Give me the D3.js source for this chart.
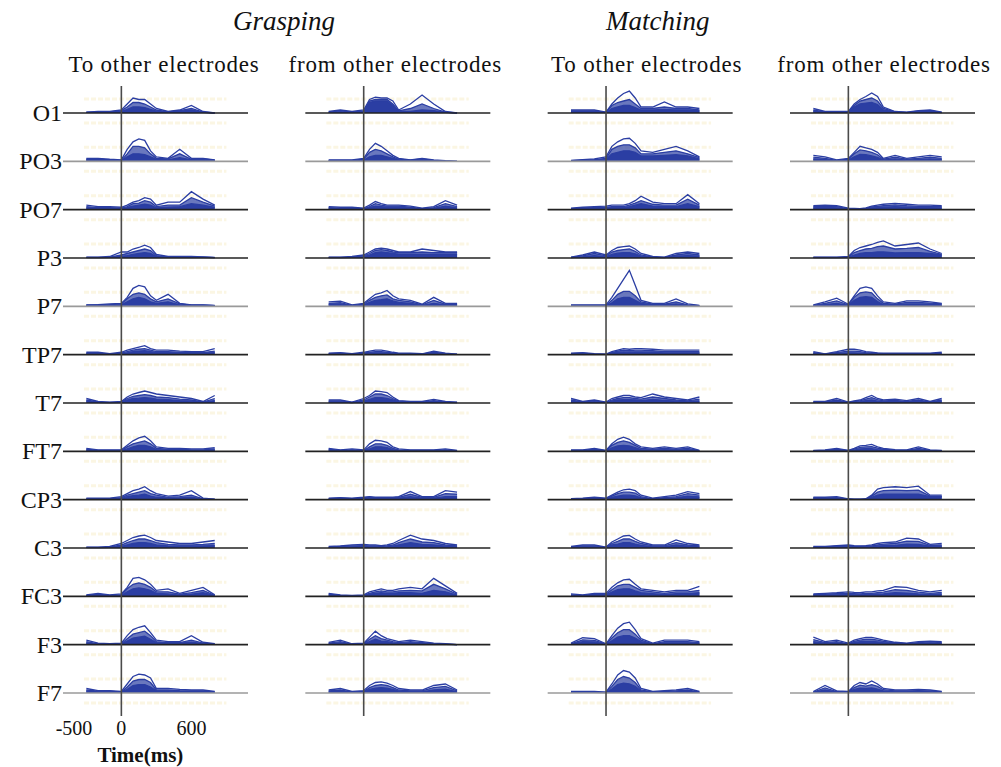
<!DOCTYPE html>
<html>
<head>
<meta charset="utf-8">
<script src="https://cdn.jsdelivr.net/npm/d3@7"></script>
<style>
  body { margin: 0; background: #fff; }
  svg { display: block; }
  text { font-family: "Liberation Serif", "Times New Roman", serif; fill: #111; }
</style>
</head>
<body>
<svg width="1001" height="767"></svg>
<script>
// electrodes (rows), conditions and directions (columns)
var electrodes = ["O1", "PO3", "PO7", "P3", "P7", "TP7", "T7", "FT7", "CP3", "C3", "FC3", "F3", "F7"];
var conditions = ["Grasping", "Matching"];
var directions = ["To other electrodes", "from other electrodes"];
var times = [-300, -200, -100, 0, 50, 100, 150, 200, 250, 300, 400, 500, 600, 700, 800];
var xTicks = [-500, 0, 600];
var lightRows = ["PO3", "P7", "F7"];

// each row: [upper trace, middle trace, lower trace], one value per time point
var graspTo = [
  [[0.3,0.5,0.5,1,3,5,4.5,4.5,3,1.5,0.5,1,2.5,0.5,0], [0.2,0.3,0.4,0.8,2,3.5,3.5,3,2,1,0.4,0.8,1.5,0.3,0], [0.2,0.2,0.3,0.5,1.2,2,2,1.8,1.2,0.6,0.3,0.5,1,0.2,0]],
  [[1,1,0.7,0.5,4,6.5,7.5,7,3.5,1.5,1,4,1,1,0.5], [0.7,0.7,0.5,0.3,2.5,5,5,4.5,2.5,1,0.8,2.5,0.7,0.8,0.4], [0.5,0.5,0.3,0.2,1.5,2.5,2.5,2.2,1.5,0.7,0.5,1.2,0.5,0.5,0.3]],
  [[1.5,1,1,0.8,1.5,2.5,3,4,3.5,1.5,2.5,2.5,6,3.5,1.5], [1,0.7,0.7,0.5,1,2,2.2,3,2.5,1,1.5,1.5,4,2.5,1.2], [0.6,0.5,0.5,0.3,0.7,1.2,1.5,1.8,1.5,0.6,0.8,1,2,1.5,0.8]],
  [[0.3,0.3,0.5,2,2,3,3.5,4.3,3.5,1.2,0.5,0.5,0.5,0.4,0.2], [0.2,0.2,0.3,1,1.5,2,2.5,3,2.5,0.8,0.4,0.4,0.3,0.3,0.1], [0.1,0.1,0.2,0.5,0.8,1.2,1.5,1.8,1.5,0.5,0.2,0.3,0.2,0.2,0.1]],
  [[0.5,0.6,0.8,1,3,6,7,6.5,3.5,2,4,1,0.5,0.5,0.3], [0.4,0.5,0.6,0.8,2.5,4,4.5,4,2.5,1.5,2.5,0.8,0.4,0.4,0.2], [0.3,0.3,0.4,0.5,1.5,2.5,3,2.5,1.5,1,1.5,0.5,0.3,0.3,0.2]],
  [[0.8,0.8,0.3,0.8,1.5,2,2.5,3,2,1.5,1.5,1.2,1,1,2], [0.5,0.5,0.2,0.5,1,1.5,1.8,2,1.5,1,1,0.8,0.7,0.7,1.2], [0.3,0.3,0.1,0.3,0.6,1,1.2,1.3,1,0.7,0.7,0.5,0.5,0.5,0.7]],
  [[1.5,0.5,0.3,0.5,2,3,3.5,4,3.5,3,2.5,2,1.5,0.5,2.5], [1,0.3,0.2,0.3,1.5,2.2,2.5,2.8,2.5,2,1.8,1.3,1,0.3,1.5], [0.6,0.2,0.1,0.2,1,1.5,1.6,1.8,1.6,1.3,1.1,0.8,0.6,0.2,0.8]],
  [[1,0.5,0.5,0.5,2,3.5,4.5,5,3.5,1.5,1,1,0.8,0.8,1.2], [0.7,0.3,0.3,0.3,1.5,2.5,3,3.5,2.5,1,0.7,0.7,0.5,0.5,0.8], [0.4,0.2,0.2,0.2,0.8,1.5,2,2,1.5,0.6,0.5,0.5,0.3,0.3,0.5]],
  [[0.5,0.5,0.5,1,2,3,3.5,4.3,3,2,1.2,1.5,3,0.5,0.2], [0.3,0.3,0.3,0.7,1.5,2,2.5,3,2,1.5,0.8,1,1.5,0.3,0.1], [0.2,0.2,0.2,0.4,1,1.3,1.5,1.8,1.2,0.8,0.5,0.6,0.8,0.2,0.1]],
  [[0.3,0.3,0.5,1.5,2.5,3.5,4,4.3,3.5,2.5,2,1.5,1.5,2,2.5], [0.2,0.2,0.3,1,1.8,2.5,3,3,2.5,1.8,1.2,1,1,1.2,1.5], [0.1,0.1,0.2,0.5,1,1.5,1.8,1.8,1.5,1,0.7,0.6,0.6,0.7,0.8]],
  [[0.5,1,0.5,0.8,3,6,6.3,5.5,4,2,2.5,1,2,3,0.5], [0.3,0.7,0.3,0.5,2.5,4,4.5,4,3,1.5,1.5,0.7,1.2,2,0.3], [0.2,0.4,0.2,0.3,1.5,2.5,2.8,2.5,2,1,0.8,0.4,0.7,1.2,0.2]],
  [[1.5,0.5,0.3,0.5,3,5,5.8,6.3,4,1.5,1,1,3,0.8,0.3], [1,0.3,0.2,0.3,2,3.5,4,4.5,3,1,0.7,0.7,1.5,0.5,0.2], [0.6,0.2,0.1,0.2,1.2,2.2,2.5,2.8,1.8,0.7,0.5,0.5,0.8,0.3,0.1]],
  [[1.5,0.8,0.8,0.5,3,5.5,6.3,6,5,1.5,1.5,1.2,1,1,0.5], [1,0.6,0.6,0.3,2,4,4.5,4.5,3.5,1,1,0.8,0.7,0.7,0.3], [0.6,0.4,0.4,0.2,1.2,2.5,2.8,2.8,2,0.7,0.7,0.5,0.5,0.5,0.2]]
];

var graspFrom = [
  [[0.5,1,0.5,1,4.5,5.3,5,5,4,1,3,6,3,0.5,0], [0.3,0.7,0.3,0.7,4,4.5,4.5,4.5,3,0.7,1.5,3,1.5,0.3,0], [0.2,0.4,0.2,0.5,3.5,4,4,4,2.5,0.5,0.5,1,0.8,0.2,0]],
  [[0.5,0.5,0.5,1,4,6,5,3.5,2,1,0.5,1,0.5,0.2,0], [0.3,0.3,0.3,0.7,3,4,3.5,2.5,1.5,0.7,0.4,0.8,0.3,0.1,0], [0.2,0.2,0.2,0.4,1.5,2,2,1.5,1,0.5,0.3,0.5,0.2,0.1,0]],
  [[1,0.8,0.8,0.5,1.5,2.7,2,1.5,1.5,1.5,1.2,0.5,1,3,1.5], [0.7,0.5,0.5,0.3,1,2,1.5,1.2,1.2,1.2,0.8,0.3,0.7,2,1], [0.5,0.3,0.3,0.2,0.7,1.2,1,0.8,0.8,0.8,0.5,0.2,0.4,1.2,0.6]],
  [[0.3,0.3,0.5,1,2,3,3.3,3,2.5,2,2,3,2.5,2,2], [0.2,0.2,0.3,0.7,1.5,2.5,2.8,2.5,2,1.8,1.8,2,1.8,1.8,1.8], [0.1,0.1,0.2,0.4,1,1.8,2,1.8,1.5,1.3,1.3,1.3,1.3,1.3,1.3]],
  [[1.5,1.7,0.5,1,2.5,4,4.5,5.3,3.5,2.5,2,0.7,3,1,1], [1,1.2,0.3,0.7,2,3,3.5,3.8,2.5,2,1.5,0.5,2,0.7,0.7], [0.6,0.8,0.2,0.4,1.3,2,2.2,2.5,1.8,1.3,1,0.3,1,0.5,0.5]],
  [[0.5,0.7,0.3,0.8,1.2,1.5,1.5,1.2,0.8,0.5,0.5,0.3,1.2,0.5,0.2], [0.3,0.5,0.2,0.5,0.8,1,1,0.8,0.5,0.3,0.3,0.2,0.8,0.3,0.1], [0.2,0.3,0.1,0.3,0.5,0.6,0.6,0.5,0.3,0.2,0.2,0.1,0.5,0.2,0.1]],
  [[1,1,0.3,1.5,2.5,4,3.8,3.5,2,0.8,0.5,0.5,1.2,0.5,0.3], [0.7,0.7,0.2,1,2,3,3,2.5,1.5,0.6,0.4,0.3,0.8,0.3,0.2], [0.4,0.4,0.1,0.6,1.2,1.8,1.8,1.5,1,0.4,0.2,0.2,0.5,0.2,0.1]],
  [[1,0.5,0.8,0.5,2.5,3.7,3.5,3,1.5,0.8,0.5,0.5,0.5,0.8,0.3], [0.7,0.3,0.5,0.3,1.5,2.5,2.5,2,1,0.5,0.3,0.3,0.3,0.5,0.2], [0.4,0.2,0.3,0.2,0.8,1.5,1.5,1.2,0.6,0.3,0.2,0.2,0.2,0.3,0.1]],
  [[0.5,0.7,0.5,0.8,1,0.8,0.8,0.8,0.8,1,2.7,1,1,3,2.5], [0.3,0.5,0.3,0.6,0.8,0.6,0.6,0.6,0.6,0.8,1.8,0.8,0.8,2,1.8], [0.2,0.3,0.2,0.4,0.5,0.5,0.5,0.5,0.5,0.5,1,0.5,0.5,1,1]],
  [[0.5,0.7,1,1.2,1,1,0.8,1,1.5,2.5,4.3,3,2.5,1.5,1], [0.3,0.5,0.7,0.8,0.7,0.7,0.5,0.7,1,1.8,3,2,1.8,1,0.7], [0.2,0.3,0.4,0.5,0.4,0.4,0.3,0.4,0.6,1,1.8,1.2,1,0.6,0.4]],
  [[1,0.5,0.3,0.5,1.5,2,2.5,2,2,2.5,3,2.5,6,3.5,1], [0.7,0.3,0.2,0.3,1,1.5,1.8,1.5,1.5,1.8,2,1.8,4,2.5,0.7], [0.4,0.2,0.1,0.2,0.7,1,1.2,1,1,1.2,1.2,1,2,1.5,0.4]],
  [[0.8,1.5,0.3,0.5,2.5,4.5,3,2,1.5,1,1.5,1,0.5,0.3,0], [0.5,1,0.2,0.3,1.8,3,2,1.5,1,0.7,1,0.7,0.3,0.2,0], [0.3,0.6,0.1,0.2,1,1.8,1.2,1,0.6,0.4,0.6,0.4,0.2,0.1,0]],
  [[1,1.5,0.5,0.8,2.5,3.5,3.7,3.3,2.5,1.5,1,1,2.5,3,1], [0.7,1,0.3,0.5,1.8,2.5,2.8,2.5,1.8,1,0.7,0.7,1.8,2.2,0.7], [0.4,0.6,0.2,0.3,1.2,1.6,1.8,1.6,1.2,0.6,0.4,0.4,1,1.3,0.4]]
];

var matchTo = [
  [[1,1,1,0.3,3,5,6.5,7.3,5,2,2,3.7,2,2,1.5], [0.7,0.7,0.7,0.2,2.5,3.5,4,4.5,3,1.5,1.5,2,1.5,1.5,1], [0.5,0.5,0.5,0.1,1.5,2,2.5,2.5,1.8,1,1,1.2,1,1,0.7]],
  [[0.3,0.6,0.8,1.5,5,6.5,7.5,7.7,6,3.5,3,4,5,3.5,1.5], [0.2,0.4,0.6,1,4,5,5.5,5.5,4.5,2.5,2.5,3,3.5,2.5,1.2], [0.1,0.3,0.4,0.6,2.5,3,3.5,3.5,3,1.8,1.8,2,2.2,1.8,0.8]],
  [[0.5,0.8,1,1.2,1.5,1.5,1.5,2,3,4.5,2.5,2,2,5,2], [0.3,0.6,0.7,0.8,1,1,1,1.5,2.2,3,1.8,1.5,1.5,3.5,1.5], [0.2,0.4,0.5,0.5,0.7,0.7,0.7,1,1.5,2,1.2,1,1,2,1]],
  [[0.3,1,2,1,2.5,3.5,3.8,4,3,1.5,0.5,0.3,1.5,2,1.5], [0.2,0.7,1.5,0.7,2,2.5,2.8,3,2.2,1,0.3,0.2,1,1.5,1], [0.1,0.4,0.8,0.4,1.2,1.6,1.8,1.8,1.4,0.6,0.2,0.1,0.6,0.8,0.6]],
  [[0.5,0.5,0.5,0.5,3,6,9,12,7,2,1,1,2.5,0.8,0.3], [0.3,0.3,0.3,0.3,2,4,5,5,3.5,1.5,0.7,0.7,1.5,0.5,0.2], [0.2,0.2,0.2,0.2,1.2,2.5,3,3,2,1,0.5,0.5,0.8,0.3,0.1]],
  [[0.5,0.7,0.3,0.2,1,1.5,2,1.8,2,2,1.8,1.5,1.5,1.5,1.5], [0.3,0.5,0.2,0.1,0.7,1.2,1.5,1.3,1.5,1.5,1.3,1,1,1,1], [0.2,0.3,0.1,0.1,0.5,0.8,0.9,0.8,0.9,0.9,0.8,0.6,0.6,0.6,0.6]],
  [[1.5,0.5,1,0.3,1.5,2,2.5,2.5,2,1.8,3,2,1.5,1,2], [1,0.3,0.7,0.2,1,1.5,1.8,1.8,1.5,1.3,2,1.5,1,0.7,1.3], [0.5,0.2,0.4,0.1,0.6,1,1.1,1.1,1,0.8,1.2,0.9,0.6,0.4,0.7]],
  [[0.5,0.5,1,0.3,2.5,4,4.7,4,2.5,1.5,1,1.5,1,1.5,0.3], [0.3,0.3,0.7,0.2,2,3,3.5,3,2,1,0.7,1,0.7,1,0.2], [0.2,0.2,0.4,0.1,1.2,1.8,2,1.8,1.2,0.6,0.4,0.6,0.4,0.6,0.1]],
  [[0.3,0.5,0.8,0.5,1.5,2.5,3.3,3.5,3,1.5,0.5,1,1.5,2.7,2], [0.2,0.3,0.6,0.3,1.2,2,2.5,2.5,2.2,1,0.3,0.7,1,2,1.5], [0.1,0.2,0.4,0.2,0.8,1.2,1.5,1.5,1.3,0.6,0.2,0.4,0.6,1.2,0.9]],
  [[0.5,1,1,0.3,2,3,4,4.2,3,2,1,1,2.7,1.5,1], [0.3,0.7,0.7,0.2,1.5,2.2,3,3,2.2,1.5,0.7,0.7,1.8,1,0.7], [0.2,0.4,0.4,0.1,1,1.3,1.8,1.8,1.3,0.9,0.4,0.4,1,0.6,0.4]],
  [[0.8,0.5,1,1,3,4.5,5.5,5.7,4,2.5,2,1.5,2,2,3.3], [0.5,0.3,0.7,0.7,2.2,3.5,4,4,3,2,1.5,1,1.5,1.5,2], [0.3,0.2,0.4,0.4,1.4,2.2,2.5,2.5,1.8,1.2,0.9,0.6,0.9,0.9,1.2]],
  [[0.5,2.3,2,0.3,3,5.5,7,7.5,5,2,0.5,1.5,1.5,1.5,1], [0.3,1.6,1.4,0.2,2.2,4,5,5,3.5,1.5,0.3,1,1,1,0.7], [0.2,1,0.9,0.1,1.3,2.5,3,3,2.2,1,0.2,0.6,0.6,0.6,0.4]],
  [[0.5,0.5,0.5,0.3,3,6,7.5,7,5,1.5,0.5,0.8,1,1.5,0.5], [0.3,0.3,0.3,0.2,2.2,4.5,5.5,5,3.5,1,0.3,0.5,0.7,1,0.3], [0.2,0.2,0.2,0.1,1.3,2.8,3.3,3,2.2,0.7,0.2,0.3,0.4,0.6,0.2]]
];

var matchFrom = [
  [[1.5,0.5,0.5,0.5,3,4.5,5.5,6.7,5.5,2,0.5,0.3,0.8,1,0.3], [1,0.3,0.3,0.3,2.5,4,4.5,5,4,1.5,0.4,0.2,0.6,0.7,0.2], [0.6,0.2,0.2,0.2,2,3,3.3,3.5,2.8,1,0.3,0.1,0.4,0.5,0.1]],
  [[2,1.5,0.5,1,3,5,4.5,4,3,1,2,1,1.5,2,1.5], [1.4,1,0.3,0.7,2.5,3.8,3.5,3,2.2,0.7,1.4,0.7,1,1.4,1], [0.8,0.6,0.2,0.4,1.5,2.3,2.2,1.8,1.3,0.4,0.8,0.4,0.6,0.8,0.6]],
  [[1.3,1.5,1.3,0.5,0.4,0.3,0.6,1.2,1.5,1.8,2.1,1.8,1.5,1.5,1.3], [1,1.2,1,0.3,0.3,0.2,0.4,0.9,1.1,1.3,1.6,1.3,1.1,1.1,1], [0.6,0.8,0.6,0.2,0.2,0.1,0.3,0.6,0.7,0.8,1,0.8,0.7,0.7,0.6]],
  [[0.3,0.3,0.3,0.5,2.5,3.5,4,4.5,5.2,5.7,4,4.5,5,3,1.5], [0.2,0.2,0.2,0.3,1.8,2.5,3,3.2,3.8,4,3,3.2,3.5,2.2,1.2], [0.1,0.1,0.1,0.2,1,1.5,1.8,1.8,2,2,1.7,1.8,1.8,1.5,1]],
  [[0.5,1.5,2.7,0.7,3.5,6,6.5,6,3.5,1.5,1,1.8,1.8,1.5,1], [0.3,1,1.8,0.5,3,4.5,4.8,4.5,2.5,1,0.7,1.3,1.3,1.1,0.8], [0.2,0.6,1,0.3,2,3,3.2,3,1.6,0.6,0.5,0.8,0.8,0.7,0.5]],
  [[1,0.3,1,1.8,1.8,1.5,1,0.8,0.6,0.5,0.5,0.5,0.5,0.5,0.8], [0.7,0.2,0.7,1.2,1.2,1,0.7,0.5,0.4,0.3,0.3,0.3,0.3,0.3,0.5], [0.4,0.1,0.4,0.6,0.6,0.5,0.4,0.3,0.2,0.2,0.2,0.2,0.2,0.2,0.3]],
  [[0.5,0.5,1.5,0.3,0.7,1,1.8,2.5,1.5,1,1.3,0.8,1.5,0.5,1.5], [0.3,0.3,1,0.2,0.5,0.7,1.3,1.8,1.1,0.7,0.9,0.5,1,0.3,1], [0.2,0.2,0.6,0.1,0.3,0.4,0.8,1,0.6,0.4,0.5,0.3,0.6,0.2,0.6]],
  [[0.3,0.5,1,0.3,1,1.8,2,2.3,1.5,1,0.6,0.5,1.5,0.5,0.3], [0.2,0.3,0.7,0.2,0.7,1.3,1.5,1.6,1.1,0.7,0.4,0.3,1,0.3,0.2], [0.1,0.2,0.4,0.1,0.4,0.8,0.9,0.9,0.6,0.4,0.2,0.2,0.6,0.2,0.1]],
  [[0.8,0.8,1,0.3,0.2,0.2,0.3,1.5,3.5,4,4.3,4,4.5,1.5,1.5], [0.6,0.6,0.7,0.2,0.1,0.1,0.2,1.2,2.5,3,3.2,3,3.2,1.2,1.2], [0.4,0.4,0.4,0.1,0.1,0.1,0.1,0.8,1.5,1.8,1.8,1.8,1.8,1,1]],
  [[0.5,0.5,0.8,1,0.8,0.7,0.8,1,1.5,1.8,2,3.3,3,1.2,1.5], [0.3,0.3,0.6,0.7,0.5,0.5,0.6,0.7,1,1.3,1.5,2.3,2.2,0.9,1], [0.2,0.2,0.4,0.4,0.3,0.3,0.4,0.4,0.6,0.8,0.9,1.3,1.2,0.6,0.6]],
  [[0.8,1,1.2,1.5,1.3,1.2,1.5,1.5,1.8,2,3.2,3,2,1.5,2], [0.6,0.7,0.9,1,0.9,0.8,1,1,1.2,1.4,2.2,2,1.4,1,1.3], [0.4,0.4,0.5,0.6,0.5,0.5,0.6,0.6,0.7,0.8,1.2,1.1,0.8,0.6,0.8]],
  [[2.5,1,1.5,0.5,1.5,2,2.4,2.4,2,1.5,0.8,0.5,1,1.2,1], [1.7,0.7,1,0.3,1.1,1.5,1.8,1.8,1.5,1.1,0.6,0.3,0.7,0.9,0.7], [1,0.4,0.6,0.2,0.7,1,1.1,1.1,0.9,0.7,0.4,0.2,0.4,0.5,0.4]],
  [[0.5,2.5,0.7,0.5,2.5,3.5,3,4,3,1.5,1,1,1.2,1,0.5], [0.3,1.7,0.5,0.3,1.8,2.6,2.3,2.8,2.2,1.1,0.7,0.7,0.8,0.7,0.3], [0.2,1,0.3,0.2,1.2,1.6,1.5,1.7,1.3,0.7,0.4,0.4,0.5,0.4,0.2]]
];

var panels = [graspTo, graspFrom, matchTo, matchFrom];

var svg = d3.select("svg"),
    panelWidth = 185,
    blue = "#2b3ea3";

var panelX = d3.scalePoint().domain(d3.range(panels.length)).range([63, 790]);
var x = d3.scaleLinear().domain([-500, 1085]).range([0, panelWidth]);
var row = d3.scalePoint().domain(electrodes).range([113, 693]);
var amp = d3.scaleLinear().domain([0, 12]).range([0, 36]);

// condition titles
svg.selectAll(".cond")
  .data(conditions)
  .enter().append("text")
    .attr("class", "cond")
    .attr("x", function(d, i) { return i === 0 ? panelX(0) + 221 : panelX(2) + 110; })
    .attr("y", 30)
    .attr("text-anchor", "middle")
    .style("font-style", "italic")
    .style("font-size", "27px")
    .text(function(d) { return d; });

// column headers
var headerX = [101, 90, 99, 94];
svg.selectAll(".dir")
  .data(panels.map(function(p, i) { return directions[i % 2]; }))
  .enter().append("text")
    .attr("class", "dir")
    .attr("x", function(d, i) { return panelX(i) + headerX[i]; })
    .attr("y", 72)
    .attr("text-anchor", "middle")
    .style("font-size", "23px")
    .style("letter-spacing", "0.8px")
    .text(function(d) { return d; });

// row labels
svg.selectAll(".elec")
  .data(electrodes)
  .enter().append("text")
    .attr("class", "elec")
    .attr("x", 62)
    .attr("y", function(d) { return row(d) + 8; })
    .attr("text-anchor", "end")
    .style("font-size", "24px")
    .text(function(d) { return d; });

var line = d3.line().x(function(d, i) { return x(times[i]); });
var area = d3.area().x(function(d, i) { return x(times[i]); });

panels.forEach(function(panel, p) {
  var g = svg.append("g").attr("transform", "translate(" + panelX(p) + ",0)");

  // faint background marks above and below each baseline
  electrodes.forEach(function(e) {
    [-14, 10].forEach(function(off) {
      g.append("line")
        .attr("x1", x(-320)).attr("x2", x(900))
        .attr("y1", row(e) + off).attr("y2", row(e) + off)
        .attr("stroke", "#fbf6e3")
        .attr("stroke-width", 3)
        .attr("stroke-dasharray", "5,2");
    });
  });

  electrodes.forEach(function(e, r) {
    var base = row(e),
        traces = panel[r];
    line.y(function(d) { return base - amp(d); });
    area.y0(base).y1(function(d) { return base - amp(d); });

    g.append("path").datum(traces[1])
      .attr("d", area).attr("fill", blue).attr("fill-opacity", 0.7);
    g.append("path").datum(traces[2])
      .attr("d", area).attr("fill", blue);
    traces.forEach(function(t) {
      g.append("path").datum(t)
        .attr("d", line)
        .attr("fill", "none")
        .attr("stroke", blue)
        .attr("stroke-width", 1.3);
    });

    g.append("line")
      .attr("x1", x(-500)).attr("x2", x(1085))
      .attr("y1", base).attr("y2", base)
      .attr("stroke", lightRows.indexOf(e) >= 0 ? "#9a9a9a" : "#222")
      .attr("stroke-width", 1.6);
  });

  // time zero
  g.append("line")
    .attr("x1", x(0)).attr("x2", x(0))
    .attr("y1", 86).attr("y2", 716)
    .attr("stroke", "#4a4a4a")
    .attr("stroke-width", 1.6);
});

// time axis under the first column
var axisG = svg.append("g").attr("transform", "translate(" + panelX(0) + ",720)");
axisG.selectAll("text")
  .data(xTicks)
  .enter().append("text")
    .attr("x", function(d) { return x(d) + (d < 0 ? 11 : 0); })
    .attr("y", 15)
    .attr("text-anchor", "middle")
    .style("font-size", "20px")
    .text(function(d) { return d; });
axisG.append("text")
  .attr("x", x(0) + 19)
  .attr("y", 42)
  .attr("text-anchor", "middle")
  .style("font-size", "21px")
  .style("font-weight", "bold")
  .text("Time(ms)");
</script>
</body>
</html>
